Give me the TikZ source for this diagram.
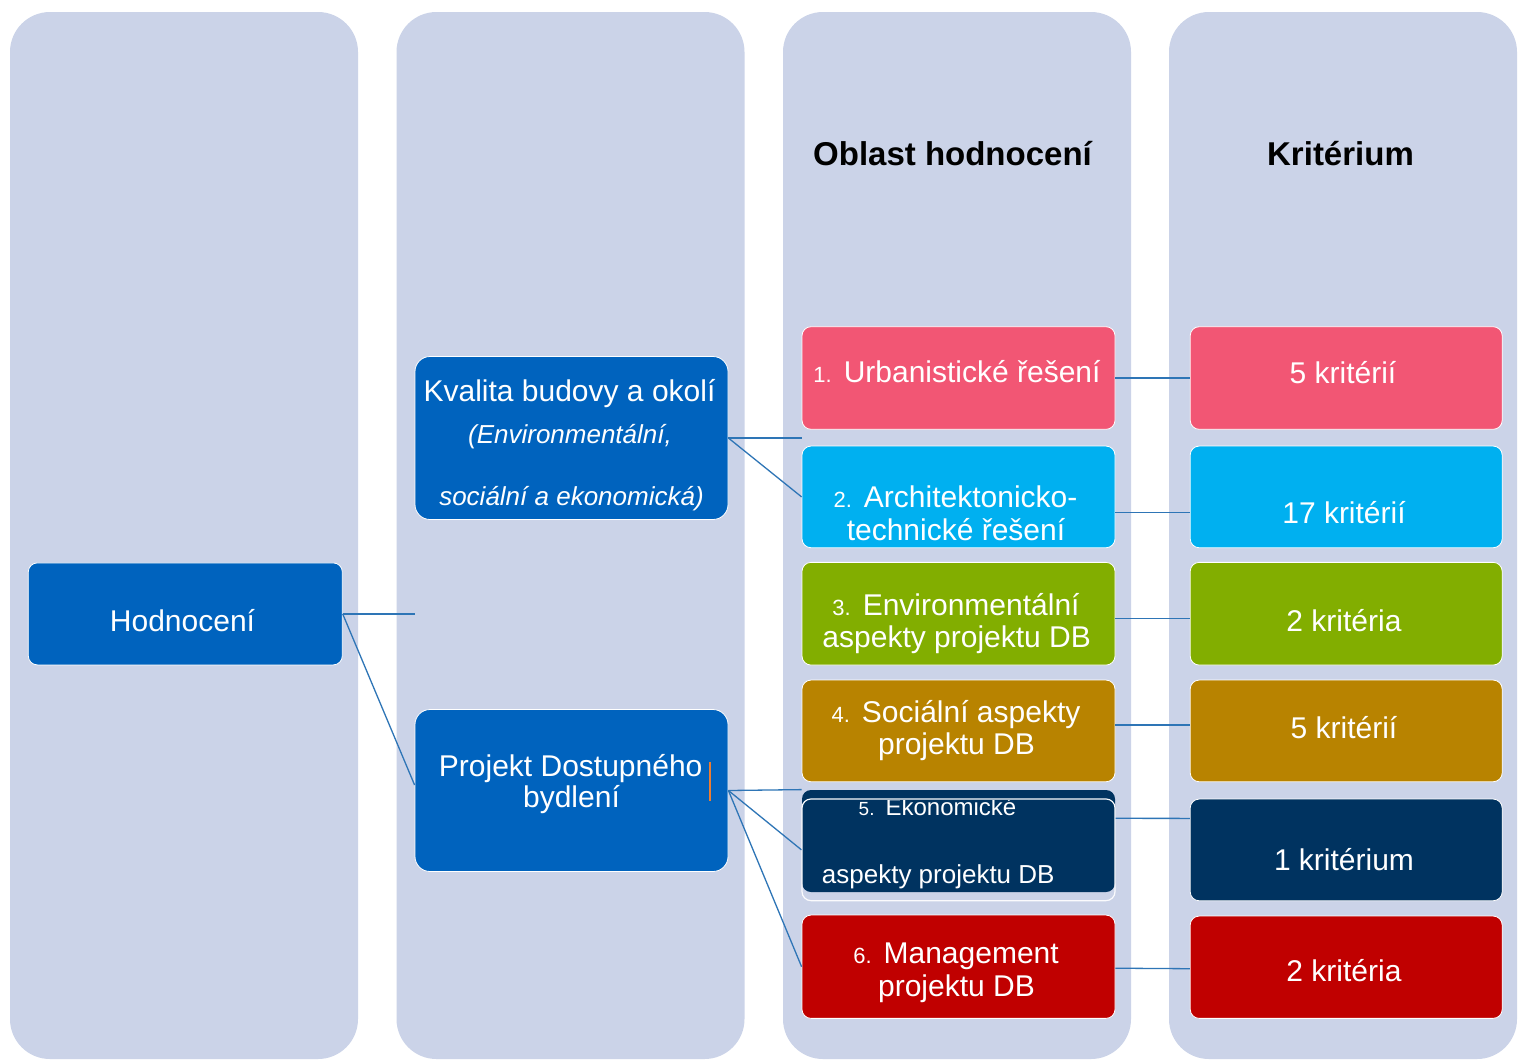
\documentclass[tikz,border=0pt]{standalone}
\usepackage{fontspec}
\setmainfont{Liberation Sans}
\usetikzlibrary{calc}

\definecolor{colbg}{RGB}{203,211,232}
\definecolor{mainblue}{RGB}{0,99,190}
\definecolor{urbpink}{RGB}{242,86,116}
\definecolor{archcyan}{RGB}{0,176,240}
\definecolor{envgreen}{RGB}{130,174,0}
\definecolor{socgold}{RGB}{184,131,0}
\definecolor{econavy}{RGB}{0,51,96}
\definecolor{mgmtred}{RGB}{192,0,0}
\definecolor{linkblue}{RGB}{46,117,182}
\definecolor{cursororange}{RGB}{237,125,49}

\newcommand{\setfs}[1]{\fontsize{#1}{#1}\selectfont}
\newcommand{\numlbl}[1]{{\setfs{22}#1}\hspace*{12pt}}

\begin{document}
\begin{tikzpicture}[x=1pt,y=-1pt,
  column/.style={fill=colbg, draw=none, rounded corners=40pt, inner sep=0pt,
                 minimum width=348pt, minimum height=1047pt},
  box/.style={draw=white, line width=0.8pt, rounded corners=9pt, inner sep=0pt,
              minimum width=313pt, minimum height=102pt},
  bigbox/.style={box, fill=mainblue, rounded corners=15pt,
                 minimum width=313pt, minimum height=163pt},
  kbox/.style={box, minimum width=312pt},
  txt/.style={text=white, inner sep=0pt, anchor=base, font=\setfs{30}},
  itxt/.style={txt, font=\setfs{26}\itshape},
  hdr/.style={text=black, inner sep=0pt, anchor=base, font=\setfs{33}\bfseries},
  link/.style={draw=linkblue, line width=1.3pt}
]
\useasboundingbox (0,0) rectangle (1518,1061);
\fill[white] (0,0) rectangle (1518,1061);

% four background columns
\node[column] (c1) at (184,535.5) {};
\node[column] (c2) at (570.5,535.5) {};
\node[column] (c3) at (957,535.5) {};
\node[column] (c4) at (1343,535.5) {};

% column headings
\node[hdr] (hOblast) at (952.5,165) {Oblast hodnocení};
\node[hdr] (hKrit) at (1340.5,165) {Kritérium};

% root and the two groups
\node[box, fill=mainblue, minimum width=314pt] (hod) at (185.3,613.9) {};
\node[txt] (tHod) at (182.5,631.7) {Hodnocení};

\node[bigbox] (kva) at (571.5,438) {};
\node[txt] (tKva1) at (569.5,401.7) {Kvalita budovy a okolí};
\node[itxt] (tKva2) at (570,443) {(Environmentální,};
\node[itxt] (tKva3) at (571.5,505) {sociální a ekonomická)};

\node[bigbox, minimum height=162pt] (pdb) at (571.5,790.5) {};
\node[txt] (tPdb1) at (570.7,776) {Projekt Dostupného};
\node[txt] (tPdb2) at (571.5,807.3) {bydlení};
\draw[cursororange, line width=1.2pt] (710,762) -- (710,801);

% evaluation areas
\node[box, fill=urbpink, minimum height=102.6pt] (b1) at (958.5,378) {};
\node[txt] (tB1) at (957,382) {\numlbl{1.}Urbanistické řešení};

\node[box, fill=archcyan, minimum height=101.7pt] (b2) at (958.5,496.9) {};
\node[txt] (tB2a) at (955.5,507) {\numlbl{2.}Architektonicko-};
\node[txt] (tB2b) at (956,540) {technické řešení};

\node[box, fill=envgreen, minimum height=102.7pt] (b3) at (958.5,613.7) {};
\node[txt] (tB3a) at (956,615) {\numlbl{3.}Environmentální};
\node[txt] (tB3b) at (956.7,647) {aspekty projektu DB};

\node[box, fill=socgold, minimum height=101.7pt] (b4) at (958.5,730.9) {};
\node[txt] (tB4a) at (956,722) {\numlbl{4.}Sociální aspekty};
\node[txt] (tB4b) at (956.5,754) {projektu DB};

\node[box, draw=none, fill=econavy] (b5) at (958.5,841) {};
\node[box, fill=none, draw=white!92!colbg, line width=1.2pt, minimum height=101.7pt] (b5o) at (958.5,849.8) {};
\begin{scope}
  \clip (803,800.5) rectangle (1114,892);
  \node[txt, font=\setfs{24}] (tB5a) at (937.5,815) {{\setfs{19}5.}\hspace*{11pt}Ekonomické};
\end{scope}
\node[txt, font=\setfs{26}, anchor=base west] (tB5b) at (821.7,883.3) {aspekty projektu DB};

\node[box, fill=mgmtred, minimum height=103.3pt] (b6) at (958.5,966.7) {};
\node[txt] (tB6a) at (956,963.3) {\numlbl{6.}Management};
\node[txt] (tB6b) at (956.5,996.7) {projektu DB};

% criterion counts
\node[kbox, fill=urbpink, minimum height=102.6pt] (k1) at (1346.2,378) {};
\node[txt] (tK1) at (1343,383.3) {5 kritérií};
\node[kbox, fill=archcyan, minimum height=101.7pt] (k2) at (1346.2,496.9) {};
\node[txt] (tK2) at (1344,523) {17 kritérií};
\node[kbox, fill=envgreen, minimum height=102.7pt] (k3) at (1346.2,613.7) {};
\node[txt] (tK3) at (1344,631.5) {2 kritéria};
\node[kbox, fill=socgold, minimum height=101.7pt] (k4) at (1346.2,730.9) {};
\node[txt] (tK4) at (1344,738.5) {5 kritérií};
\node[kbox, fill=econavy, minimum height=101.7pt] (k5) at (1346.2,849.9) {};
\node[txt] (tK5) at (1344,870.7) {1 kritérium};
\node[kbox, fill=mgmtred, minimum height=102.3pt] (k6) at (1346.2,967.2) {};
\node[txt] (tK6) at (1344,981.7) {2 kritéria};

% connectors of the tree
\draw[link] (hod.east) -- (hod.east -| kva.west);
\draw[link] (hod.east) -- ([yshift=5.5pt]pdb.west);
\draw[link] (kva.east) -- (kva.east -| b1.west);
\draw[link] (kva.east) -- (b2.west);
\draw[link] (pdb.east) -- (b5.north west);
\draw[link] (pdb.east) -- (b5o.west);
\draw[link] (pdb.east) -- (b6.west);

% area to criterion links
\draw[link] (b1.east) -- (k1.west);
\draw[link] ([yshift=-15.5pt]b2.east) -- ([yshift=-15.5pt]k2.west);
\draw[link] ([yshift=-4.5pt]b3.east) -- ([yshift=-4.5pt]k3.west);
\draw[link] ([yshift=5.8pt]b4.east) -- ([yshift=5.8pt]k4.west);
\draw[link] ([yshift=31.5pt]b5o.east) -- ([yshift=31.5pt]k5.west);
\draw[link] ([yshift=-1.5pt]b6.east) -- ([yshift=-1.5pt]k6.west);
\end{tikzpicture}
\end{document}
